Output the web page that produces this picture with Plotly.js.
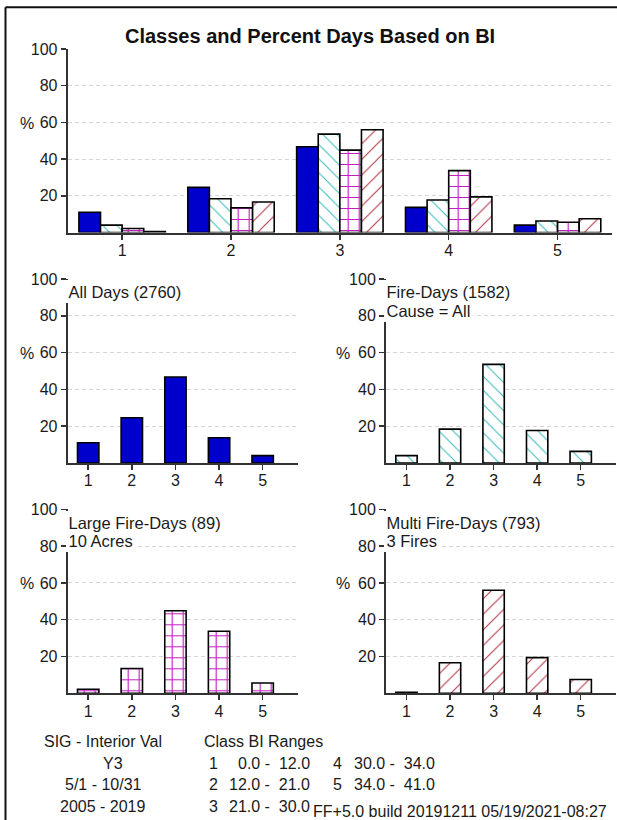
<!DOCTYPE html>
<html>
<head>
<meta charset="utf-8">
<script src="https://cdn.plot.ly/plotly-3.0.1.min.js"></script>
<style>html,body{margin:0;padding:0;background:#fff;overflow:hidden;}#chart{width:617px;height:820px;}</style>
</head>
<body>
<div id="chart"></div>
<script>
// ---- data ----
const classes = [1, 2, 3, 4, 5];
const classLabels = ['1', '2', '3', '4', '5'];
const yTicks = [20, 40, 60, 80, 100];
const allDays = [11.0, 24.6, 46.7, 13.7, 4.0];
const fireDays = [4.0, 18.4, 53.6, 17.7, 6.3];
const largeFireDays = [2.2, 13.5, 44.9, 33.7, 5.6];
const multiFireDays = [0.5, 16.6, 56.0, 19.4, 7.5];
const chartTitle = 'Classes and Percent Days Based on BI';
const panelTitles = [
  ['All Days (2760)'],
  ['Fire-Days (1582)', 'Cause = All'],
  ['Large Fire-Days (89)', '10 Acres'],
  ['Multi Fire-Days (793)', '3 Fires']
];
const infoLines = ['SIG - Interior Val', 'Y3', '5/1 - 10/31', '2005 - 2019'];
const rangeHeader = 'Class BI Ranges';
const rangeClasses = ['1', '2', '3', '4', '5'];
const rangeText = ['0.0 -  12.0', '12.0 -  21.0', '21.0 -  30.0', '30.0 -  34.0', '34.0 -  41.0'];
const buildText = 'FF+5.0 build 20191211 05/19/2021-08:27';

// ---- styling ----
const W = 617, H = 820;
const FONT = 'Liberation Sans, Arial, sans-serif';
const TXT = '#1a1a1a';
const px = v => v / W;
const py = v => 1 - v / H;
const nb = s => s.replace(/ /g, '\u00a0');
const outline = {color: '#000', width: 1.6};

const styles = [
  {color: '#0000cd', line: outline},
  {color: '#ffffff', line: outline, pattern: {shape: '\\', fgcolor: '#3fbcbc', bgcolor: '#ffffff', size: 10, solidity: 0.11, fillmode: 'replace'}},
  {color: '#ffffff', line: outline, pattern: {shape: '+', fgcolor: '#c21fc2', bgcolor: '#ffffff', size: 11, solidity: 0.2, fillmode: 'replace'}},
  {color: '#ffffff', line: outline, pattern: {shape: '/', fgcolor: '#b33a4a', bgcolor: '#ffffff', size: 11, solidity: 0.1, fillmode: 'replace'}}
];
const series = [allDays, fireDays, largeFireDays, multiFireDays];

const traces = [];
// top grouped chart
series.forEach((s, i) => {
  traces.push({type: 'bar', x: classes, y: s, xaxis: 'x', yaxis: 'y', marker: styles[i], hoverinfo: 'skip'});
});
// small panels
const panels = [
  {n: 2, xd: [67.7, 298], yd: [279, 463]},
  {n: 3, xd: [386, 616], yd: [279, 463]},
  {n: 4, xd: [67.7, 298], yd: [509.3, 693.3]},
  {n: 5, xd: [386, 616], yd: [509.3, 693.3]}
];
panels.forEach((p, i) => {
  traces.push({type: 'bar', x: classes, y: series[i], xaxis: 'x' + p.n, yaxis: 'y' + p.n,
    width: 0.49, marker: styles[i], hoverinfo: 'skip'});
});

function xAxis(domain, range, anchor) {
  return {domain: domain, range: range, anchor: anchor, tickmode: 'array', tickvals: classes, ticktext: classLabels,
    ticks: 'outside', ticklen: 5, tickwidth: 1.5, tickcolor: '#333', showline: true, linecolor: '#333', linewidth: 2,
    ticklabelstandoff: -3,
    showgrid: false, zeroline: false, fixedrange: true, tickfont: {family: FONT, size: 16, color: TXT}};
}
function yAxis(domain, anchor) {
  return {domain: domain, range: [0, 100], anchor: anchor, tickmode: 'array', tickvals: yTicks,
    ticks: 'outside', ticklen: 5, tickwidth: 1.5, tickcolor: '#333', showline: true, linecolor: '#333', linewidth: 2,
    showgrid: true, gridcolor: '#d6d6d6', gridwidth: 1, griddash: '4px,3px', zeroline: false, fixedrange: true,
    tickfont: {family: FONT, size: 16, color: TXT}};
}

const layout = {
  width: W, height: H, autosize: false,
  margin: {l: 0, r: 0, t: 0, b: 0, pad: 0},
  paper_bgcolor: '#fff', plot_bgcolor: '#fff',
  showlegend: false, barmode: 'group', bargap: 0.206, bargroupgap: 0,
  xaxis: xAxis([px(67.7), px(612)], [0.5, 5.5], 'y'),
  yaxis: yAxis([py(232.5), py(49)], 'x'),
  annotations: [], shapes: []
};
panels.forEach(p => {
  layout['xaxis' + p.n] = xAxis([px(p.xd[0]), px(p.xd[1])], [0.53, 5.81], 'y' + p.n);
  layout['yaxis' + p.n] = yAxis([py(p.yd[1]), py(p.yd[0])], 'x' + p.n);
});

function ann(text, x, y, o) {
  o = o || {};
  return Object.assign({xref: 'paper', yref: 'paper', x: px(x), y: py(y), text: text, showarrow: false,
    xanchor: 'left', yanchor: 'middle', font: {family: FONT, size: 16, color: TXT}}, o);
}
const A = layout.annotations;
A.push(ann(chartTitle, 310, 36, {xanchor: 'center', font: {family: FONT, size: 20, color: '#111', weight: 'bold'}}));
// % labels
[[27, 123], [27, 353.3], [343, 353.3], [27, 583.7], [343, 583.7]].forEach(c => A.push(ann('%', c[0], c[1], {xanchor: 'center'})));
// panel titles with white background (second line first so first line is drawn on top)
panels.forEach((p, i) => {
  const t = panelTitles[i];
  const y0 = p.yd[0] + 12.7;
  for (let k = t.length - 1; k >= 0; k--) {
    A.push(ann(t[k], p.xd[0] - 1.7, y0 + k * 18.3, {bgcolor: '#ffffff', borderpad: 2.5, borderwidth: 0,
      font: {family: FONT, size: 16.5, color: TXT}}));
  }
});
// info block
const infoX = [103, 113, 103, 103];
const rowY = [741.5, 763.3, 784, 806];
infoLines.forEach((s, i) => A.push(ann(s, infoX[i], rowY[i], {xanchor: 'center'})));
A.push(ann(rangeHeader, 201.7, rowY[0]));
rangeClasses.forEach((c, i) => {
  const col = i < 3 ? 0 : 1;
  const row = i < 3 ? i + 1 : i - 2;
  A.push(ann(c, col ? 344 : 220, rowY[row], {xanchor: 'right'}));
  A.push(ann(nb(rangeText[i]), col ? 437 : 312, rowY[row], {xanchor: 'right'}));
});
A.push(ann(buildText, 310.5, 811, {font: {family: FONT, size: 16, color: TXT}}));

// frame (left and top edges)
layout.shapes.push({type: 'line', xref: 'paper', yref: 'paper', x0: px(5.5), x1: px(5.5), y0: 0, y1: py(7.3),
  line: {color: '#111', width: 2}});
layout.shapes.push({type: 'line', xref: 'paper', yref: 'paper', x0: px(5.5), x1: 1, y0: py(7.3), y1: py(7.3),
  line: {color: '#111', width: 2}});

Plotly.newPlot('chart', traces, layout, {displayModeBar: false, staticPlot: true});
</script>
</body>
</html>
